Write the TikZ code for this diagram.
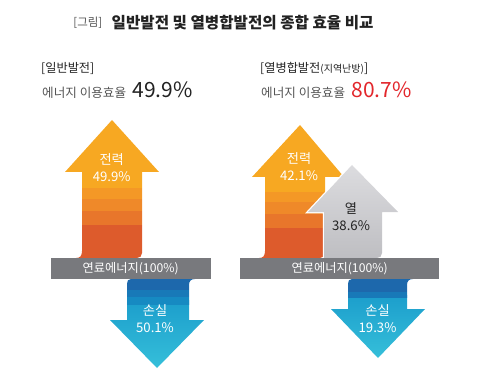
\documentclass[tikz,border=0pt]{standalone}
\usepackage{fontspec}
\setmainfont{Noto Sans CJK KR}
\usetikzlibrary{positioning}
\definecolor{efforange}{RGB}{247,168,34}
\definecolor{efforange1}{RGB}{244,152,38}
\definecolor{efforange2}{RGB}{239,137,41}
\definecolor{efforange3}{RGB}{232,118,43}
\definecolor{efforange4}{RGB}{221,91,44}
\definecolor{effblue1}{RGB}{29,104,172}
\definecolor{effblue2}{RGB}{24,121,184}
\definecolor{effblue3}{RGB}{22,138,194}
\definecolor{effblue4}{RGB}{28,158,204}
\definecolor{effblue5}{RGB}{54,192,218}
\definecolor{effgray}{RGB}{120,121,125}
\definecolor{effheat}{RGB}{220,220,223}
\definecolor{effheat2}{RGB}{178,179,183}
\definecolor{effheat3}{RGB}{190,190,194}
\definecolor{effred}{RGB}{226,38,43}
\definecolor{efftext}{RGB}{34,34,34}
\definecolor{effsub}{RGB}{85,85,85}

\begin{document}
\begin{tikzpicture}[
  x=1pt, y=-1pt,
  title/.style={font=\bfseries\fontsize{15.6}{18}\selectfont, text=efftext, inner sep=0pt},
  tag/.style={font=\fontsize{11.5}{13}\selectfont, text=effsub, inner sep=0pt},
  panel/.style={font=\fontsize{12.2}{14}\selectfont, text=efftext, inner sep=0pt, anchor=west},
  usage/.style={font=\fontsize{12.6}{14}\selectfont, text=effsub, inner sep=0pt, anchor=base west},
  rate/.style={font=\fontsize{21}{24}\selectfont, inner sep=0pt, anchor=base west},
  fuelbar/.style={rectangle, fill=effgray, text=white, minimum height=21pt, inner sep=0pt, font=\fontsize{12.2}{14}\selectfont},
  share/.style={align=center, text=white, inner sep=0pt, font=\fontsize{13.2}{17}\selectfont}
]
\useasboundingbox (0,0) rectangle (500,382);

% Title
\node[title, anchor=west] (title) at (111.5,23) {일반발전 및 열병합발전의 종합 효율 비교};
\node[tag, left=9pt of title] (tag) {[그림]};

% Panel headings
\node[panel] (lhead) at (41,68) {[일반발전]};
\node[usage] (leff) at (42,98) {에너지 이용효율};
\node[rate, text=efftext, right=6pt of leff.base east, anchor=base west] (lrate) {49.9\%};
\node[panel] (rhead) at (260,68) {[열병합발전{\fontsize{10}{11}\selectfont(지역난방)}]};
\node[usage] (reff) at (261,98) {에너지 이용효율};
\node[rate, text=effred, right=6pt of reff.base east, anchor=base west] (rrate) {80.7\%};

% General generation: power arrow
\begin{scope}
  \clip (76,258) .. controls (80,258) and (82,256) .. (82,251) -- (82,172) -- (65,172)
    -- (112,120) -- (159,172) -- (142,172) -- (142,253) .. controls (142,256) and (140,258) .. (137,258) -- cycle;
  \fill[efforange] (60,115) rectangle (165,188);
  \fill[efforange1] (60,188) rectangle (165,199);
  \fill[efforange2] (60,199) rectangle (165,211);
  \fill[efforange3] (60,211) rectangle (165,225);
  \fill[efforange4] (60,225) rectangle (165,262);
\end{scope}

% General generation: loss arrow
\begin{scope}
  \clip (131,279) .. controls (128,279) and (127,281) .. (127,284) -- (127,320) -- (110,320)
    -- (157,368) -- (204,320) -- (189,320) -- (189,285) .. controls (189,281) and (191,279) .. (195,279) -- cycle;
  \shade[top color=effblue4, bottom color=effblue5] (105,300) rectangle (210,370);
  \fill[effblue1] (105,275) rectangle (210,290);
  \fill[effblue2] (105,290) rectangle (210,297);
  \fill[effblue3] (105,297) rectangle (210,305);
\end{scope}

% Cogeneration: power arrow
\begin{scope}
  \clip (259,258) .. controls (263,258) and (265,256) .. (265,251) -- (265,177) -- (252,177)
    -- (300,125) -- (344,177) -- (325,177) -- (325,253) .. controls (325,256) and (323,258) .. (320,258) -- cycle;
  \fill[efforange] (245,120) rectangle (350,192);
  \fill[efforange1] (245,192) rectangle (350,202);
  \fill[efforange2] (245,202) rectangle (350,214);
  \fill[efforange3] (245,214) rectangle (350,228);
  \fill[efforange4] (245,228) rectangle (350,262);
\end{scope}

% Cogeneration: heat arrow
\draw[white, line width=2.5pt, line join=miter] (324,259) -- (324,212) -- (308,212) -- (352,165);
\shade[top color=effheat, middle color=effheat2, bottom color=effheat3]
  (324,258) -- (324,212) -- (308,212) -- (352,165) -- (398,212) -- (382,212)
  -- (382,253) .. controls (382,256) and (380,258) .. (377,258) -- cycle;

% Cogeneration: loss arrow
\begin{scope}
  \clip (352,279) .. controls (349,279) and (348,281) .. (348,284) -- (348,309) -- (331,309)
    -- (378,358) -- (425,309) -- (407,309) -- (407,285) .. controls (407,281) and (409,279) .. (413,279) -- cycle;
  \shade[top color=effblue4, bottom color=effblue5] (325,295) rectangle (430,360);
  \fill[effblue1] (325,275) rectangle (430,292);
  \fill[effblue2] (325,292) rectangle (430,298);
\end{scope}

% Fuel bars
\node[fuelbar, minimum width=160pt] (lbar) at (130.7,268.7) {연료에너지(100\%)};
\node[fuelbar, minimum width=199.5pt] (rbar) at (339.7,268.7) {연료에너지(100\%)};

% Arrow labels
\node[share] (lpower) at (111.7,167.5) {전력\\49.9\%};
\node[share] (lloss) at (155,318.5) {손실\\50.1\%};
\node[share] (rpower) at (299,167) {전력\\42.1\%};
\node[share, text=efftext] (rheat) at (351,217) {열\\38.6\%};
\node[share] (rloss) at (377.5,318.5) {손실\\19.3\%};

\end{tikzpicture}
\end{document}
